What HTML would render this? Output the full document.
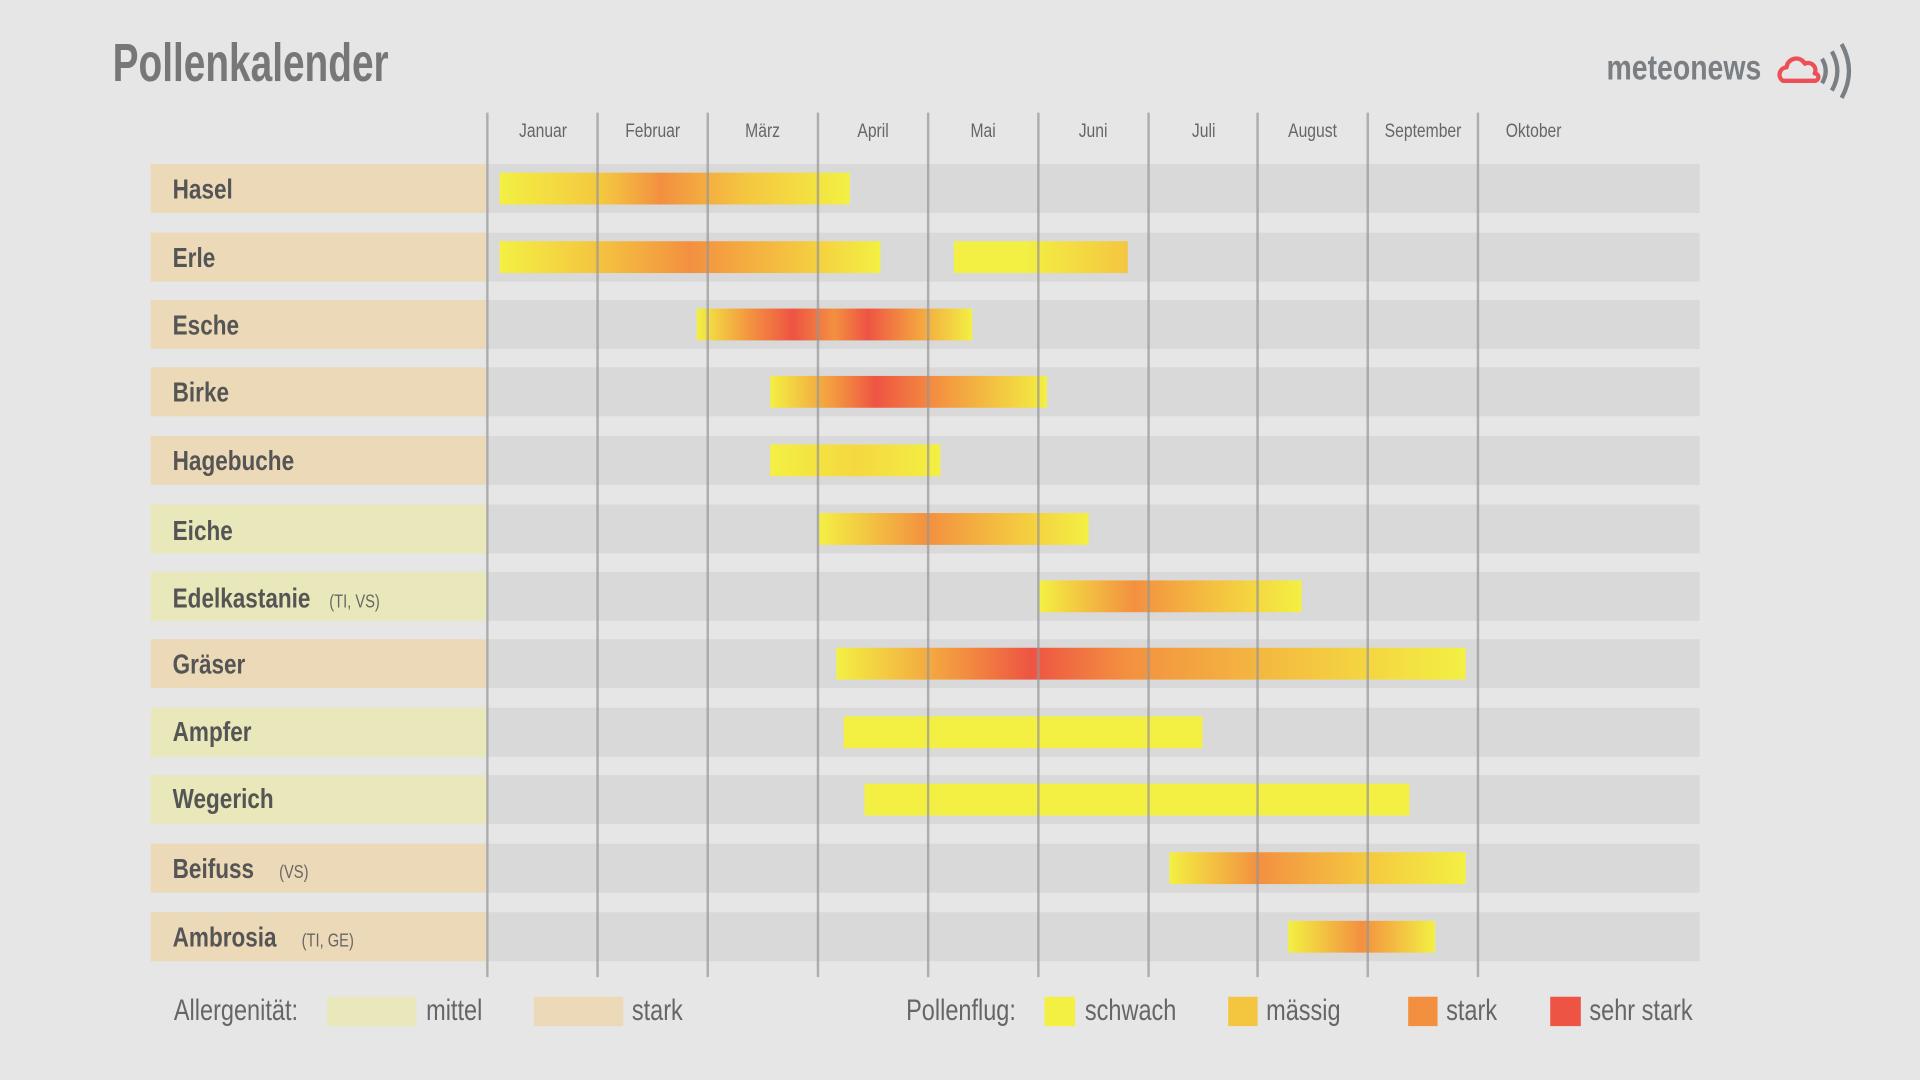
<!DOCTYPE html>
<html><head><meta charset="utf-8"><style>
html,body{margin:0;padding:0;width:1920px;height:1080px;overflow:hidden;background:#e6e6e6}
#s{position:absolute;left:0;top:0;width:1568px;height:882px;transform:scale(1.22449);transform-origin:0 0;font-family:"Liberation Sans",sans-serif}
.t{position:absolute;white-space:nowrap;transform:scaleX(.8);transform-origin:0 50%}
.lab{position:absolute;left:123px;width:274px;height:40px}
.trk{position:absolute;left:398px;width:990px;height:40px;background:#d9d9d9}
.rn{position:absolute;left:141px;height:40px;line-height:40px;font-size:23px;font-weight:bold;color:#555}
.rn small{font-size:15px;font-weight:normal;color:#666}
.bar{position:absolute;height:26px}
.g{position:absolute;top:92px;height:706px;width:2px;background:rgba(150,150,150,.7)}
.m{position:absolute;top:98px;width:90px;text-align:center;font-size:16px;color:#666;line-height:20px}
.m span{display:inline-block;transform:scaleX(.8)}
.lg{position:absolute;top:813px;font-size:24px;color:#666;line-height:26px}
.bx{position:absolute}
</style></head><body><div id="s">
<div class="t" style="left:92px;top:28px;font-size:44px;font-weight:bold;color:#777;line-height:48px;transform:scaleX(.72)">Pollenkalender</div>
<div class="t" style="left:1312px;top:40px;font-size:29px;font-weight:bold;color:#7a7f84;line-height:32px">meteonews</div>
<svg style="position:absolute;left:1448px;top:34px" width="70" height="50" viewBox="0 0 70 50">
<path d="M8 32 a6 6 0 0 1 3-11 a8 8 0 0 1 15-3 a6 6 0 0 1 8 8 a3 3 0 0 1 0 6 z" fill="none" stroke="#ec4f55" stroke-width="3.5" stroke-linejoin="round"/>
<path d="M40 14 q6 10 0 20" fill="none" stroke="#7a7f84" stroke-width="3.5"/>
<path d="M48 8 q9 16 0 32" fill="none" stroke="#7a7f84" stroke-width="3.5"/>
<path d="M56 2 q12 22 0 44" fill="none" stroke="#7a7f84" stroke-width="3.5"/>
</svg>

<div class="m" style="left:398px"><span>Januar</span></div>
<div class="m" style="left:488px"><span>Februar</span></div>
<div class="m" style="left:578px"><span>März</span></div>
<div class="m" style="left:668px"><span>April</span></div>
<div class="m" style="left:758px"><span>Mai</span></div>
<div class="m" style="left:848px"><span>Juni</span></div>
<div class="m" style="left:938px"><span>Juli</span></div>
<div class="m" style="left:1027px"><span>August</span></div>
<div class="m" style="left:1117px"><span>September</span></div>
<div class="m" style="left:1207px"><span>Oktober</span></div>

<div class="lab" style="top:134px;background:#ecd9b8"></div><div class="trk" style="top:134px"></div><div class="rn t" style="top:134px">Hasel</div>
<div class="lab" style="top:190px;background:#ecd9b8"></div><div class="trk" style="top:190px"></div><div class="rn t" style="top:190px">Erle</div>
<div class="lab" style="top:245px;background:#ecd9b8"></div><div class="trk" style="top:245px"></div><div class="rn t" style="top:245px">Esche</div>
<div class="lab" style="top:300px;background:#ecd9b8"></div><div class="trk" style="top:300px"></div><div class="rn t" style="top:300px">Birke</div>
<div class="lab" style="top:356px;background:#ecd9b8"></div><div class="trk" style="top:356px"></div><div class="rn t" style="top:356px">Hagebuche</div>
<div class="lab" style="top:412px;background:#e9e8bb"></div><div class="trk" style="top:412px"></div><div class="rn t" style="top:413px">Eiche</div>
<div class="lab" style="top:467px;background:#e9e8bb"></div><div class="trk" style="top:467px"></div><div class="rn t" style="top:468px">Edelkastanie&nbsp;&nbsp; <small>(TI, VS)</small></div>
<div class="lab" style="top:522px;background:#ecd9b8"></div><div class="trk" style="top:522px"></div><div class="rn t" style="top:522px">Gräser</div>
<div class="lab" style="top:578px;background:#e9e8bb"></div><div class="trk" style="top:578px"></div><div class="rn t" style="top:577px">Ampfer</div>
<div class="lab" style="top:633px;background:#e9e8bb"></div><div class="trk" style="top:633px"></div><div class="rn t" style="top:632px">Wegerich</div>
<div class="lab" style="top:689px;background:#ecd9b8"></div><div class="trk" style="top:689px"></div><div class="rn t" style="top:689px">Beifuss&nbsp;&nbsp;&nbsp; <small>(VS)</small></div>
<div class="lab" style="top:745px;background:#ecd9b8"></div><div class="trk" style="top:745px"></div><div class="rn t" style="top:745px">Ambrosia&nbsp;&nbsp;&nbsp; <small>(TI, GE)</small></div>

<div class="bar" style="left:408px;width:286px;top:141px;background:linear-gradient(90deg,#f3f043,#f4c640 30%,#f39040 46%,#f4c640 70%,#f3f043)"></div>
<div class="bar" style="left:408px;width:311px;top:197px;background:linear-gradient(90deg,#f3f043,#f4c640 25%,#f39040 50%,#f4c640 78%,#f3f043)"></div>
<div class="bar" style="left:779px;width:142px;top:197px;background:linear-gradient(90deg,#f3f043,#f3f043 40%,#f4c640)"></div>
<div class="bar" style="left:569px;width:225px;top:252px;background:linear-gradient(90deg,#f3f043,#f39040 20%,#ee5443 35%,#f39040 50%,#ee5443 62%,#f39040 76%,#f3f043)"></div>
<div class="bar" style="left:629px;width:226px;top:307px;background:linear-gradient(90deg,#f3f043,#f39040 25%,#ee5443 38%,#f39040 60%,#f3f043)"></div>
<div class="bar" style="left:629px;width:139px;top:363px;background:linear-gradient(90deg,#f3f043,#f4d840 50%,#f3f043)"></div>
<div class="bar" style="left:669px;width:220px;top:419px;background:linear-gradient(90deg,#f3f043,#f39040 40%,#f4c640 72%,#f3f043)"></div>
<div class="bar" style="left:849px;width:214px;top:474px;background:linear-gradient(90deg,#f3f043,#f39040 36%,#f4c640 70%,#f3f043)"></div>
<div class="bar" style="left:683px;width:514px;top:529px;background:linear-gradient(90deg,#f3f043,#f39040 20%,#ee5443 31%,#f39040 46%,#f4c640 75%,#f3f043)"></div>
<div class="bar" style="left:689px;width:293px;top:585px;background:#f3f043"></div>
<div class="bar" style="left:706px;width:445px;top:640px;background:#f3f043"></div>
<div class="bar" style="left:955px;width:242px;top:696px;background:linear-gradient(90deg,#f3f043,#f39040 30%,#f4c640 65%,#f3f043)"></div>
<div class="bar" style="left:1052px;width:120px;top:752px;background:linear-gradient(90deg,#f3f043,#f39040 50%,#f3f043)"></div>

<div class="g" style="left:397px"></div><div class="g" style="left:487px"></div><div class="g" style="left:577px"></div>
<div class="g" style="left:667px"></div><div class="g" style="left:757px"></div><div class="g" style="left:847px"></div>
<div class="g" style="left:937px"></div><div class="g" style="left:1026px"></div><div class="g" style="left:1116px"></div>
<div class="g" style="left:1206px"></div>

<div class="lg t" style="left:142px">Allergenität:</div>
<div class="bx" style="left:267px;top:814px;width:73px;height:24px;background:#e9e8bb"></div>
<div class="lg t" style="left:348px">mittel</div>
<div class="bx" style="left:436px;top:814px;width:73px;height:24px;background:#ecd9b8"></div>
<div class="lg t" style="left:516px">stark</div>
<div class="lg t" style="left:740px">Pollenflug:</div>
<div class="bx" style="left:853px;top:814px;width:25px;height:24px;background:#f3f043"></div>
<div class="lg t" style="left:886px">schwach</div>
<div class="bx" style="left:1003px;top:814px;width:24px;height:24px;background:#f4c640"></div>
<div class="lg t" style="left:1034px">mässig</div>
<div class="bx" style="left:1150px;top:814px;width:24px;height:24px;background:#f39040"></div>
<div class="lg t" style="left:1181px">stark</div>
<div class="bx" style="left:1266px;top:814px;width:25px;height:24px;background:#ee5443"></div>
<div class="lg t" style="left:1298px">sehr stark</div>
</div></body></html>
